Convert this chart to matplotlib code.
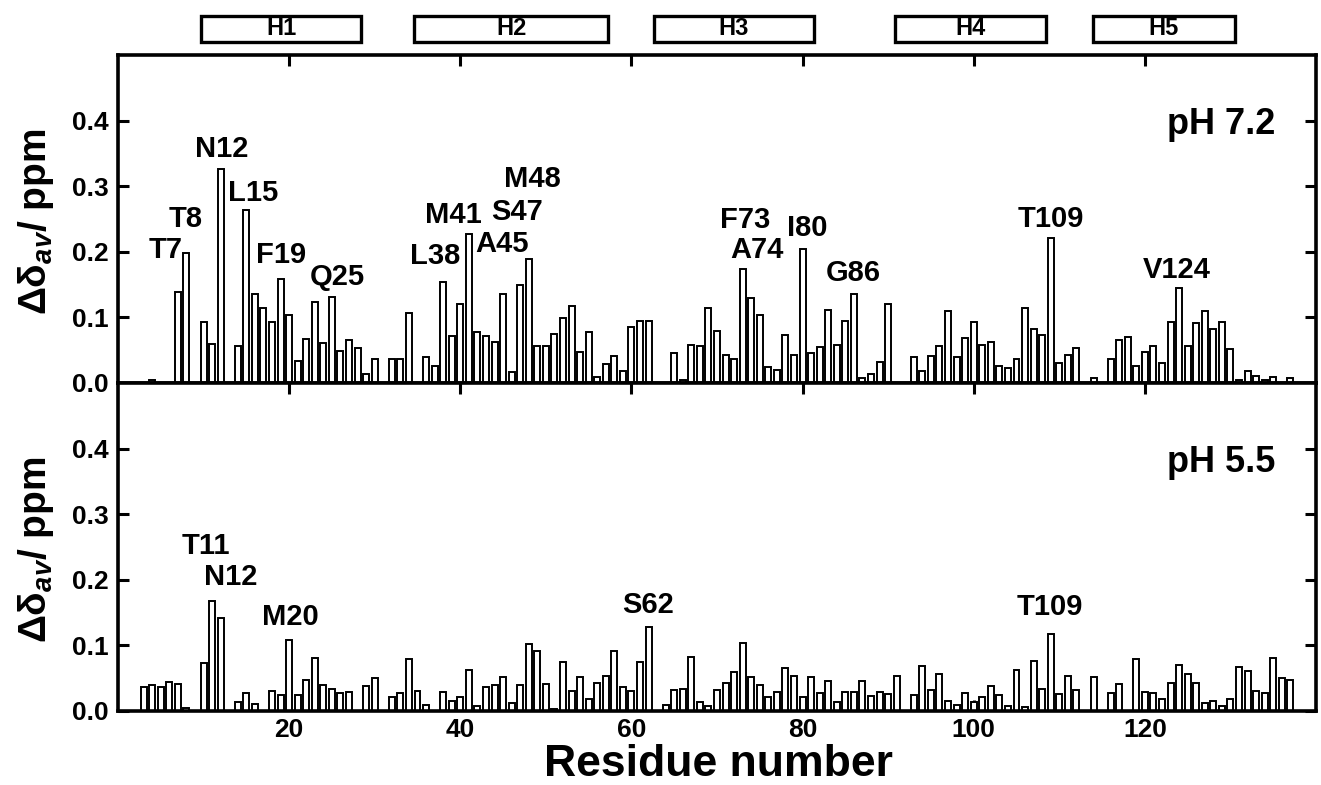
import matplotlib
matplotlib.use('Agg')
import matplotlib.pyplot as plt
from matplotlib.patches import Rectangle
import matplotlib.transforms as mtransforms
from matplotlib import font_manager

plt.rcParams['font.family'] = ['Liberation Sans', 'DejaVu Sans']
plt.rcParams['font.weight'] = 'bold'
plt.rcParams['mathtext.fontset'] = 'custom'
plt.rcParams['mathtext.it'] = 'Liberation Sans:bold:italic'
plt.rcParams['mathtext.rm'] = 'Liberation Sans:bold'
plt.rcParams['mathtext.bf'] = 'Liberation Sans:bold'

# ---------------- data ----------------
res_72 = [4, 7, 8, 10, 11, 12, 14, 15, 16, 17, 18, 19, 20, 21, 22, 23, 24, 25, 26, 27, 28, 29, 30,
          32, 33, 34, 36, 37, 38, 39, 40, 41, 42, 43, 44, 45, 46, 47, 48, 49, 50, 51, 52, 53, 54,
          55, 56, 57, 58, 59, 60, 61, 62, 65, 66, 67, 68, 69, 70, 71, 72, 73, 74, 75, 76, 77, 78,
          79, 80, 81, 82, 83, 84, 85, 86, 87, 88, 89, 90, 93, 94, 95, 96, 97, 98, 99, 100, 101,
          102, 103, 104, 105, 106, 107, 108, 109, 110, 111, 112, 114, 116, 117, 118, 119, 120,
          121, 122, 123, 124, 125, 126, 127, 128, 129, 130, 131, 132, 133, 134, 135, 137]
val_72 = [0.004, 0.139, 0.198, 0.093, 0.059, 0.326, 0.056, 0.263, 0.135, 0.114, 0.093, 0.159,
          0.103, 0.034, 0.067, 0.124, 0.061, 0.131, 0.049, 0.066, 0.054, 0.013, 0.036,
          0.036, 0.037, 0.107, 0.039, 0.026, 0.154, 0.072, 0.121, 0.227, 0.077, 0.071, 0.063,
          0.135, 0.017, 0.149, 0.189, 0.056, 0.056, 0.075, 0.099, 0.118, 0.048,
          0.077, 0.009, 0.029, 0.041, 0.019, 0.086, 0.094, 0.094, 0.045, 0.005, 0.058, 0.056,
          0.115, 0.079, 0.042, 0.037, 0.174, 0.130, 0.103, 0.024, 0.020, 0.073,
          0.043, 0.205, 0.045, 0.055, 0.111, 0.058, 0.094, 0.136, 0.008, 0.014, 0.032, 0.121,
          0.040, 0.019, 0.041, 0.057, 0.110, 0.040, 0.068, 0.093, 0.058,
          0.062, 0.026, 0.023, 0.036, 0.115, 0.082, 0.073, 0.221, 0.030, 0.043, 0.054, 0.008,
          0.036, 0.065, 0.070, 0.026, 0.048,
          0.056, 0.031, 0.093, 0.145, 0.056, 0.091, 0.109, 0.083, 0.093, 0.052, 0.005, 0.018,
          0.011, 0.004, 0.009, 0.007]

res_55 = [3, 4, 5, 6, 7, 8, 10, 11, 12, 14, 15, 16, 18, 19, 20, 21, 22, 23, 24, 25, 26, 27, 29,
          30, 32, 33, 34, 35, 36, 38, 39, 40, 41, 42, 43, 44, 45, 46, 47, 48, 49, 50, 51, 52, 53,
          54, 55, 56, 57, 58, 59, 60, 61, 62, 64, 65, 66, 67, 68, 69, 70, 71, 72, 73, 74, 75, 76,
          77, 78, 79, 80, 81, 82, 83, 84, 85, 86, 87, 88, 89, 90, 91, 93, 94, 95, 96, 97, 98, 99,
          100, 101, 102, 103, 104, 105, 106, 107, 108, 109, 110, 111, 112, 114, 116, 117, 119,
          120, 121, 122, 123, 124, 125, 126, 127, 128, 129, 130, 131, 132, 133, 134, 135, 136, 137]
val_55 = [0.036, 0.039, 0.037, 0.044, 0.041, 0.005, 0.073, 0.168, 0.142, 0.013, 0.027, 0.010,
          0.030, 0.025, 0.108, 0.025, 0.048, 0.081, 0.039, 0.033, 0.027, 0.029, 0.038,
          0.050, 0.021, 0.027, 0.079, 0.031, 0.009, 0.029, 0.015, 0.021, 0.062, 0.007, 0.036,
          0.039, 0.052, 0.012, 0.040, 0.102, 0.092, 0.041, 0.003, 0.074, 0.031,
          0.052, 0.018, 0.043, 0.054, 0.091, 0.037, 0.030, 0.074, 0.128, 0.009, 0.032, 0.034,
          0.082, 0.014, 0.008, 0.032, 0.043, 0.059, 0.103, 0.052, 0.040, 0.021,
          0.029, 0.066, 0.053, 0.021, 0.052, 0.027, 0.046, 0.013, 0.029, 0.029, 0.045, 0.023,
          0.029, 0.026, 0.053, 0.024, 0.068, 0.032, 0.056, 0.015, 0.009, 0.027,
          0.013, 0.021, 0.038, 0.024, 0.007, 0.063, 0.006, 0.076, 0.033, 0.118, 0.026, 0.053,
          0.032, 0.052, 0.027, 0.041, 0.079,
          0.029, 0.028, 0.018, 0.043, 0.070, 0.057, 0.042, 0.012, 0.015, 0.008, 0.018, 0.067,
          0.061, 0.031, 0.027, 0.081, 0.051, 0.047]

helix_names = ['H1', 'H2', 'H3', 'H4', 'H5']
helix_start = [9.7, 34.6, 62.6, 90.8, 113.9]
helix_end = [28.4, 57.3, 81.3, 108.5, 130.5]

ann_72_text = ['T7', 'T8', 'N12', 'L15', 'F19', 'Q25', 'L38', 'M41', 'A45', 'S47', 'M48',
               'F73', 'A74', 'I80', 'G86', 'T109', 'V124']
ann_72_x = [5.6, 7.9, 12.1, 15.8, 19.0, 25.6, 37.1, 39.2, 44.9, 46.6, 48.4,
            73.3, 74.7, 80.6, 85.9, 109.0, 123.7]
ann_72_y = [0.190, 0.238, 0.344, 0.278, 0.183, 0.150, 0.181, 0.244, 0.199, 0.248, 0.299,
            0.236, 0.190, 0.224, 0.155, 0.238, 0.160]

ann_55_text = ['T11', 'N12', 'M20', 'S62', 'T109']
ann_55_x = [10.25, 13.2, 20.1, 61.9, 108.85]
ann_55_y = [0.240, 0.192, 0.131, 0.150, 0.147]

yticks = [0.0, 0.1, 0.2, 0.3, 0.4]
ytick_labels = ['0.0', '0.1', '0.2', '0.3', '0.4']
xticks = [20, 40, 60, 80, 100, 120]
xtick_labels = ['20', '40', '60', '80', '100', '120']

# ---------------- figure ----------------
names = {f.name for f in font_manager.fontManager.ttflist}
narrow = 'Liberation Sans Narrow' if 'Liberation Sans Narrow' in names else 'Liberation Sans'

W, H = 1321, 785
fig = plt.figure(figsize=(W / 100, H / 100), dpi=100)
left = 118 / W
width = 1198 / W
ph = 328 / H
ax1 = fig.add_axes([left, 1 - 383 / H, width, ph])
ax2 = fig.add_axes([left, 1 - 711 / H, width, ph])

for ax, r, v in ((ax1, res_72, val_72), (ax2, res_55, val_55)):
    ax.bar(r, v, width=0.7, color='white', edgecolor='black', linewidth=1.4, zorder=2)
    ax.set_xlim(0, 140)
    ax.set_ylim(0, 0.5)
    ax.set_yticks(yticks)
    ax.set_yticklabels(ytick_labels)
    ax.set_xticks(xticks)
    ax.tick_params(direction='in', length=8, width=2.2, top=True, right=True,
                   labelsize=19)
    ax.tick_params(axis='y', pad=7)
    ax.tick_params(axis='x', pad=5)
    for s in ax.spines.values():
        s.set_linewidth(2.6)
        s.set_zorder(5)
    for lab in ax.get_yticklabels() + ax.get_xticklabels():
        lab.set_fontweight('bold')

ax1.set_xticklabels([])
ax2.set_xticklabels(xtick_labels)
for lab in ax2.get_xticklabels():
    lab.set_fontweight('bold')

for t, x, y in zip(ann_72_text, ann_72_x, ann_72_y):
    ax1.text(x, y, t, ha='center', va='baseline', fontsize=21, fontweight='bold')
for t, x, y in zip(ann_55_text, ann_55_x, ann_55_y):
    ax2.text(x, y, t, ha='center', va='baseline', fontsize=21, fontweight='bold')

ax1.text(135.2, 0.380, 'pH 7.2', ha='right', va='baseline', fontsize=26, fontweight='bold')
ax2.text(135.2, 0.365, 'pH 5.5', ha='right', va='baseline', fontsize=26, fontweight='bold')

trans = mtransforms.blended_transform_factory(ax1.transData, ax1.transAxes)
for name, s, e in zip(helix_names, helix_start, helix_end):
    ax1.add_patch(Rectangle((s, 1.04), e - s, 0.079, transform=trans, facecolor='white',
                            edgecolor='black', linewidth=2.4, clip_on=False))
    ax1.text((s + e) / 2, 1.0795, name, transform=trans, ha='center', va='center',
             fontsize=17, fontweight='bold', family=narrow, clip_on=False)

fig.text(36 / W, 1 - 222 / H, 'Δδ$_{av}$/ ppm', rotation=90, ha='center', va='center',
         fontsize=28, fontweight='bold')
fig.text(36 / W, 1 - 550 / H, 'Δδ$_{av}$/ ppm', rotation=90, ha='center', va='center',
         fontsize=28, fontweight='bold')
fig.text(718 / W, 0.5 / H, 'Residue number', ha='center', va='bottom',
         fontsize=32, fontweight='bold')

fig.savefig('out.png', dpi=100)
